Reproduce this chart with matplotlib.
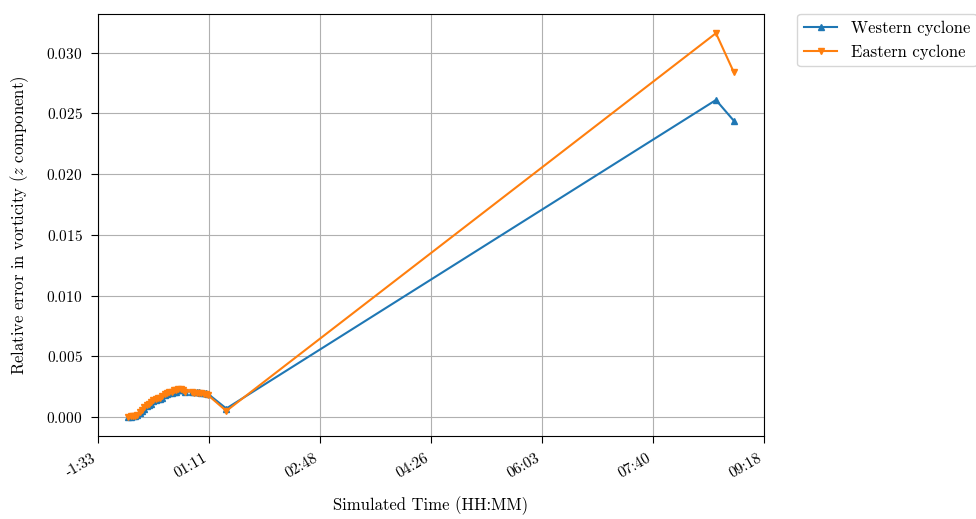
import numpy as np
import matplotlib
matplotlib.use("Agg")
import matplotlib.pyplot as plt
from matplotlib.ticker import FuncFormatter, LinearLocator

plt.rcParams["font.family"] = "serif"
plt.rcParams["font.serif"] = ["cmr10"]
plt.rcParams["mathtext.fontset"] = "cm"
plt.rcParams["axes.formatter.use_mathtext"] = True
plt.rcParams["axes.unicode_minus"] = False
plt.rcParams["xtick.major.size"] = 5
plt.rcParams["ytick.major.size"] = 5
plt.rcParams["xtick.major.pad"] = 6
plt.rcParams["ytick.major.pad"] = 6
plt.rcParams["xtick.labelsize"] = 11
plt.rcParams["ytick.labelsize"] = 11

# simulated time of each output (minutes since start)
t_min = np.array([0.5, 2.5, 4.5, 6.5, 8.5, 10.5, 12.5, 14.5, 16.5, 18.5,
                  20.5, 22.5, 24.5, 26.5, 28.5, 30.5, 32.5, 34.5, 36.5, 38.5,
                  40.5, 42.5, 44.5, 46.5, 48.5, 50.5, 56.5, 58.5, 60.5, 62.5,
                  64.5, 66.5, 68.5, 70.5, 86.5, 516.0, 531.6])

# relative vorticity error, z component
err_west = [0.00002, 0.00003, 0.00005, 0.00008, 0.00015, 0.0003, 0.0005,
            0.0007, 0.0009, 0.0010, 0.0011, 0.0013, 0.0014, 0.0015, 0.0015,
            0.0016, 0.0018, 0.0019, 0.0020, 0.0020, 0.0021, 0.0021, 0.0022,
            0.0022, 0.0022, 0.0021, 0.0021, 0.0021, 0.0021, 0.0021, 0.0020,
            0.0020, 0.0020, 0.0019, 0.0007, 0.0261, 0.0244]
err_east = [0.00003, 0.00005, 0.00008, 0.00012, 0.0002, 0.0004, 0.0006,
            0.0008, 0.0010, 0.0011, 0.0012, 0.0014, 0.0015, 0.0016, 0.0016,
            0.0017, 0.0019, 0.0020, 0.0021, 0.0021, 0.0022, 0.0022, 0.0023,
            0.0023, 0.0022, 0.0021, 0.0021, 0.0020, 0.0020, 0.0020, 0.0020,
            0.0019, 0.0019, 0.0018, 0.0005, 0.0316, 0.0284]


def hhmm(x, pos):
    h, m = divmod(x, 60)
    return f"{int(h):02d}:{int(m):02d}"


fig = plt.figure(figsize=(9.76, 5.19), dpi=100)
ax = fig.add_axes([0.1004, 0.160, 0.6824, 0.813])

ax.plot(t_min, err_west, marker="^", markersize=4, label="Western cyclone")
ax.plot(t_min, err_east, marker="v", markersize=4, label="Eastern cyclone")

ax.xaxis.set_major_locator(LinearLocator(7))
ax.xaxis.set_major_formatter(FuncFormatter(hhmm))
for lbl in ax.get_xticklabels():
    lbl.set_rotation(30)
    lbl.set_ha("right")

ax.set_xlabel("Simulated Time (HH:MM)", fontsize=12, labelpad=11)
ax.set_ylabel("Relative error in vorticity ($z$ component)", fontsize=12,
              labelpad=11)
ax.grid(True)
ax.legend(loc="upper left", bbox_to_anchor=(1.05, 1.0), borderaxespad=0,
          fontsize=12)

fig.savefig("out.png", dpi=100)
